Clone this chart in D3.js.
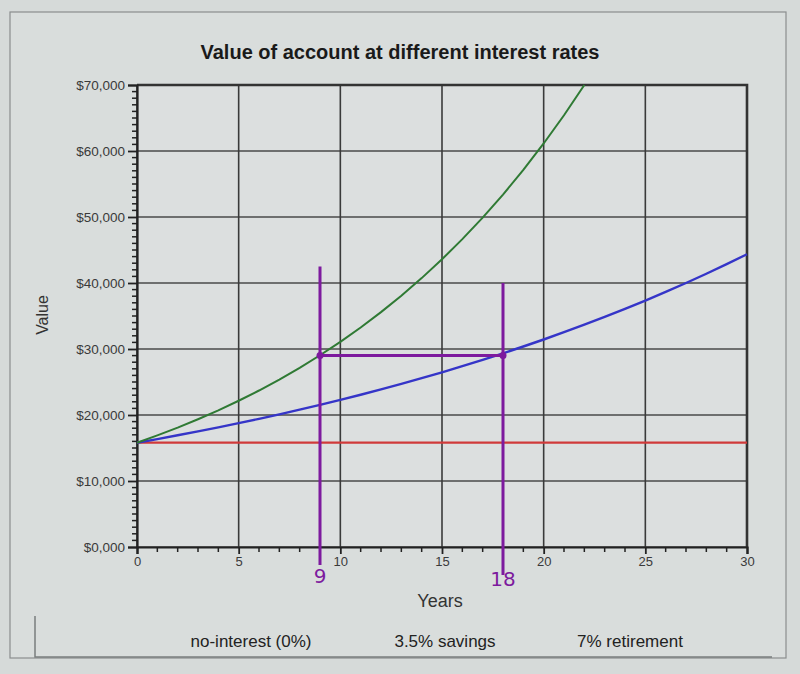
<!DOCTYPE html>
<html><head><meta charset="utf-8">
<script src="https://cdn.jsdelivr.net/npm/d3@7"></script>
<style>
body{margin:0;background:#d6dad9;}
svg{display:block;font-family:"Liberation Sans",Arial,sans-serif;}
</style></head>
<body><svg id="c" width="800" height="674"></svg>
<script>
const title = "Value of account at different interest rates";
const xLabel = "Years";
const yLabel = "Value";
const years = [0,1,2,3,4,5,6,7,8,9,10,11,12,13,14,15,16,17,18,19,20,21,22,23,24,25,26,27,28,29,30];
const noInterest = [15800,15800,15800,15800,15800,15800,15800,15800,15800,15800,15800,15800,15800,15800,15800,15800,15800,15800,15800,15800,15800,15800,15800,15800,15800,15800,15800,15800,15800,15800,15800];
const savings = [15800,16350,16930,17520,18130,18770,19420,20100,20810,21530,22290,23070,23880,24710,25580,26470,27400,28360,29350,30380,31440,32540,33680,34860,36080,37340,38650,40000,41400,42850,44350];
const retirementYears = [0,1,2,3,4,5,6,7,8,9,10,11,12,13,14,15,16,17,18,19,20,21,22];
const retirement = [15800,16910,18090,19360,20710,22160,23710,25370,27150,29050,31080,33260,35590,38080,40740,43590,46640,49910,53400,57140,61140,65420,70000];
const seriesNames = ["no-interest (0%)","3.5% savings","7% retirement"];
const xTicks = [0,5,10,15,20,25,30];
const yTicks = [0,10000,20000,30000,40000,50000,60000,70000];
const markYears = [9,18];
const markLabels = ["9","18"];
const markValue = 29000;

const svg = d3.select("#c");
const L=137,R=747,T=85,B=547;
const x = d3.scaleLinear().domain([0,30]).range([L,R]);
const y = d3.scaleLinear().domain([0,70000]).range([B,T]);

// outer panel + legend box lines
svg.append("rect").attr("x",10).attr("y",12).attr("width",776).attr("height",646)
  .attr("fill","#d9dddc").attr("stroke","#8a8e8e").attr("stroke-width",1.2);
svg.append("path").attr("d","M35,616 L35,657 L772,657").attr("fill","none").attr("stroke","#7a7e7e").attr("stroke-width",1.5);

svg.append("rect").attr("x",L).attr("y",T).attr("width",R-L).attr("height",B-T).attr("fill","#dcdfdf");

// title
svg.append("text").attr("x",400).attr("y",59).attr("text-anchor","middle")
  .attr("font-size",20).attr("font-weight","bold").attr("fill","#1a1a1a").text(title);

// grid
const g = svg.append("g");
g.selectAll("line.hg").data(yTicks).join("line")
  .attr("x1",L).attr("x2",R).attr("y1",d=>y(d)).attr("y2",d=>y(d))
  .attr("stroke","#4a4a4a").attr("stroke-width",1.6);
g.selectAll("line.vg").data(xTicks).join("line")
  .attr("y1",T).attr("y2",B).attr("x1",d=>x(d)).attr("x2",d=>x(d))
  .attr("stroke","#3a3a3a").attr("stroke-width",1.6);
svg.append("path").attr("d",`M${L},${T} L${R},${T} L${R},${B}`).attr("fill","none").attr("stroke","#333").attr("stroke-width",2.6);

// y axis
const yAxis = d3.axisLeft(y).tickValues(yTicks).tickFormat(d=>"$"+d3.format(",")(d).replace(/^0$/,"0,000")).tickSize(9).tickPadding(3);
const ya = svg.append("g").attr("transform",`translate(${L},0)`).call(yAxis);
ya.select(".domain").attr("stroke","#222").attr("stroke-width",2.2);
ya.selectAll(".tick line").attr("stroke","#222").attr("stroke-width",1.8);
ya.selectAll(".tick text").attr("font-size",13.5).attr("fill","#3a3a3a").attr("font-family","Liberation Sans, Arial, sans-serif");
const yMinor = d3.range(0,70001,1000).filter(v=>v%10000!==0);
svg.selectAll("line.ym").data(yMinor).join("line")
  .attr("x1",L-5).attr("x2",L).attr("y1",d=>y(d)).attr("y2",d=>y(d)).attr("stroke","#222").attr("stroke-width",1.5);

// x axis
const xAxis = d3.axisBottom(x).tickValues(xTicks).tickSize(7).tickPadding(3);
const xa = svg.append("g").attr("transform",`translate(0,${B})`).call(xAxis);
xa.select(".domain").attr("stroke","#222").attr("stroke-width",2.2);
xa.selectAll(".tick line").attr("stroke","#222").attr("stroke-width",1.8);
xa.selectAll(".tick text").attr("font-size",13).attr("fill","#3a3a3a").attr("font-family","Liberation Sans, Arial, sans-serif");
const xMinor = years.filter(v=>v%5!==0);
svg.selectAll("line.xm").data(xMinor).join("line")
  .attr("x1",d=>x(d)).attr("x2",d=>x(d)).attr("y1",B).attr("y2",B+5).attr("stroke","#222").attr("stroke-width",1.5);

// axis labels
svg.append("text").attr("x",440).attr("y",607).attr("text-anchor","middle").attr("font-size",18).attr("fill","#333").text(xLabel);
svg.append("text").attr("transform","translate(48,315) rotate(-90)").attr("text-anchor","middle").attr("font-size",16).attr("fill","#333").text(yLabel);

// lines
const line = (xs,vs)=>d3.line().x((d,i)=>x(xs[i])).y(d=>y(d))(vs);
svg.append("path").attr("d",line(years,noInterest)).attr("fill","none").attr("stroke","#d03a3a").attr("stroke-width",2.2);
svg.append("path").attr("d",line(years,savings)).attr("fill","none").attr("stroke","#3535c8").attr("stroke-width",2.4);
svg.append("path").attr("d",line(retirementYears,retirement)).attr("fill","none").attr("stroke","#2f7a34").attr("stroke-width",2);

// legend text
const legX = [251,445,630];
svg.selectAll("text.leg").data(seriesNames).join("text")
  .attr("x",(d,i)=>legX[i]).attr("y",647).attr("text-anchor","middle")
  .attr("font-size",17).attr("fill","#222").text(d=>d);

// hand annotations
const purple = "#7d1a9e";
const topVals = [42500,40000];
svg.selectAll("line.mv").data(markYears).join("line")
  .attr("x1",d=>x(d)).attr("x2",d=>x(d)).attr("y1",(d,i)=>y(topVals[i])).attr("y2",(d,i)=>B+18+i*10)
  .attr("stroke",purple).attr("stroke-width",3);
svg.append("line").attr("x1",x(markYears[0])).attr("x2",x(markYears[1])).attr("y1",y(markValue)).attr("y2",y(markValue))
  .attr("stroke",purple).attr("stroke-width",3);
svg.selectAll("circle.mk").data(markYears).join("circle")
  .attr("cx",d=>x(d)).attr("cy",y(markValue)).attr("r",3.5).attr("fill",purple);
svg.selectAll("text.mk").data(markLabels).join("text")
  .attr("x",(d,i)=>x(markYears[i])).attr("y",(d,i)=>583+i*3).attr("text-anchor","middle")
  .attr("font-size",20).attr("fill",purple).attr("font-family","DejaVu Sans, sans-serif").text(d=>d);
</script></body></html>
